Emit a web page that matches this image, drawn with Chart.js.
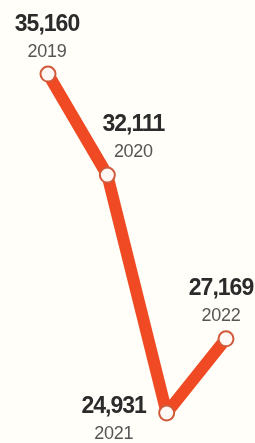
<!DOCTYPE html>
<html>
<head>
<meta charset="utf-8">
<script src="https://cdn.jsdelivr.net/npm/chart.js@4"></script>
<style>
  html, body { margin: 0; padding: 0; background: #fffef8; }
  #wrap { width: 255px; height: 443px; position: relative; }
</style>
</head>
<body>
<div id="wrap"><canvas id="chart"></canvas></div>
<script>
const years = ['2019', '2020', '2021', '2022'];
const values = [35160, 32111, 24931, 27169];

// where each label sits relative to its point (dx, dy of value text centre)
const labelOffsets = [[-1, -49], [26, -50], [-53, -6], [-5, -50]];

const pointLabels = {
  id: 'pointLabels',
  afterDatasetsDraw(chart) {
    const ctx = chart.ctx;
    const meta = chart.getDatasetMeta(0);
    ctx.save();
    ctx.textAlign = 'center';
    ctx.textBaseline = 'middle';
    meta.data.forEach((pt, i) => {
      const [dx, dy] = labelOffsets[i];
      ctx.fillStyle = '#2b2b2b';
      ctx.font = 'bold 23px "Liberation Sans", Arial, sans-serif';
      ctx.letterSpacing = '-1px';
      ctx.fillText(values[i].toLocaleString('en-US'), pt.x + dx, pt.y + dy);
      ctx.fillStyle = '#555555';
      ctx.font = '18px "Liberation Sans", Arial, sans-serif';
      ctx.letterSpacing = '-0.3px';
      ctx.fillText(years[i], pt.x + dx, pt.y + dy + 27);
    });
    ctx.restore();
  }
};

new Chart(document.getElementById('chart'), {
  type: 'line',
  data: {
    labels: years,
    datasets: [{
      data: values,
      borderColor: '#f04a25',
      borderWidth: 12,
      borderJoinStyle: 'round',
      borderCapStyle: 'round',
      pointRadius: 7.5,
      pointBorderWidth: 2,
      pointBorderColor: '#d2593a',
      pointBackgroundColor: '#fff8f4',
      tension: 0,
      clip: false
    }]
  },
  options: {
    responsive: true,
    maintainAspectRatio: false,
    animation: false,
    layout: { autoPadding: false, padding: { left: 48, right: 29, top: 0, bottom: 0 } },
    plugins: { legend: { display: false }, tooltip: { enabled: false } },
    scales: {
      x: { display: false, offset: false },
      y: { display: false, min: 24025, max: 37396 }
    }
  },
  plugins: [pointLabels]
});
</script>
</body>
</html>
